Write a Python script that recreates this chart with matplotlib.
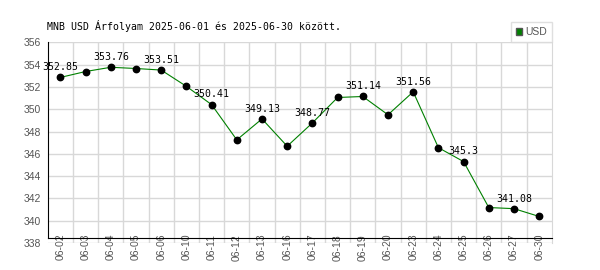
import numpy as np
import matplotlib.pyplot as plt
import matplotlib.patches as mpatches

# adatok
dates = ["06-02", "06-03", "06-04", "06-05", "06-06", "06-10", "06-11", "06-12", "06-13", "06-16",
         "06-17", "06-18", "06-19", "06-20", "06-23", "06-24", "06-25", "06-26", "06-27", "06-30"]
usd = [352.85, 353.38, 353.76, 353.65, 353.51, 352.05, 350.41, 347.25, 349.13, 346.68,
       348.77, 351.05, 351.14, 349.50, 351.56, 346.55, 345.3, 341.18, 341.08, 340.38]
title = "MNB USD Árfolyam 2025-06-01 és 2025-06-30 között."
yticks = np.arange(338, 357, 2)

fig = plt.figure(figsize=(6, 2.7), dpi=100)
ax = fig.add_axes([48.3/600, 1-243/270, 504/600, 200.7/270])

x = np.arange(len(dates))
ax.plot(x, usd, color="#008000", lw=0.8, marker="o", ms=4.6,
        mfc="black", mec="black", zorder=3)

# minden masodik ertek feliratozva
for i in range(0, len(usd), 2):
    ax.annotate(f"{usd[i]:g}", (x[i], usd[i]), xytext=(0, 7.3), textcoords="offset points",
                ha="center", va="center", family="DejaVu Sans Mono", fontsize=7.1, zorder=4)

ax.set_xlim(-0.48, len(dates) - 0.48)
ax.set_ylim(338, 356)
ax.set_yticks(yticks)
ax.set_xticks(x)
ax.set_xticklabels(dates)
ax.set_xticks(x[:-1] + 0.5, minor=True)

ax.grid(True, axis="y", color="#d8d8d8", lw=1)
ax.grid(True, axis="x", which="minor", color="#d8d8d8", lw=1)
ax.set_axisbelow(True)

ax.spines["top"].set_visible(False)
ax.spines["right"].set_color("#d8d8d8")
ax.spines["bottom"].set_position(("data", 338.45))
ax.spines["bottom"].set_color("black")
ax.spines["left"].set_bounds(338.45, 356)
ax.spines["left"].set_color("black")

ax.tick_params(axis="both", which="both", length=0, colors="#555555", labelsize=7.5)
ax.tick_params(axis="y", pad=5)
ax.tick_params(axis="x", pad=-3, labelrotation=90)
for lab in ax.get_xticklabels() + ax.get_yticklabels():
    lab.set_family("Liberation Sans")
for lab in ax.get_xticklabels():
    lab.set_va("top")

fig.text(46.7/600, 1-26/270, title, family="DejaVu Sans Mono", fontsize=7.1, va="center", ha="left")

# zold negyzet a jelmagyarazatban
leg = ax.legend(handles=[mpatches.Patch(facecolor="#008000", edgecolor="#555555", label="USD")],
                loc="lower right", bbox_to_anchor=(1.0, 1.0), frameon=True, fancybox=False,
                fontsize=7.5, handlelength=0.6, handleheight=0.6, handletextpad=0.3,
                borderpad=0.45, borderaxespad=0.05)
leg.get_frame().set_edgecolor("#d8d8d8")
leg.get_frame().set_linewidth(1)
for t in leg.get_texts():
    t.set_color("#555555")
    t.set_family("Liberation Sans")

fig.savefig("out.png", dpi=100)
